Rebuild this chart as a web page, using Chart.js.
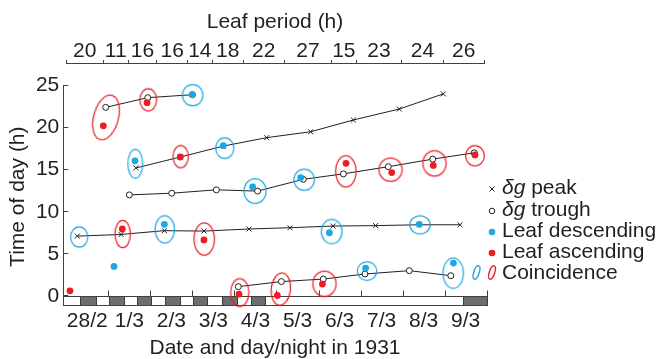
<!DOCTYPE html>
<html>
<head>
<meta charset="utf-8">
<script src="https://cdn.jsdelivr.net/npm/chart.js@4"></script>
<style>
  html, body { margin: 0; padding: 0; background: #fff; }
  #wrap { position: relative; width: 660px; height: 359px; font-family: 'Liberation Sans', Arial, sans-serif; color: #231f20; }
  #myChart { position: absolute; left: 0; top: 0; }
  .row { position: absolute; left: 0; width: 660px; height: 22px; line-height: 22px; font-size: 21px; white-space: nowrap; }
  .row span { position: absolute; left: 502px; top: 0; }
  .row svg { position: absolute; top: 0; overflow: visible; }
</style>
</head>
<body>
<div id="wrap">
  <canvas id="myChart" width="660" height="359"></canvas>
  <div class="row" style="top:176px"><svg style="left:486px" width="12" height="22"><path d="M3.5 10.5 L8.5 15.5 M8.5 10.5 L3.5 15.5" stroke="#231f20" stroke-width="1"/></svg><span><i>δg</i> peak</span></div>
  <div class="row" style="top:197.5px"><svg style="left:486px" width="12" height="22"><circle cx="6" cy="13" r="2.8" fill="#fff" stroke="#231f20" stroke-width="1"/></svg><span><i>δg</i> trough</span></div>
  <div class="row" style="top:219px"><svg style="left:486px" width="12" height="22"><circle cx="6" cy="13" r="3.3" fill="#1ca8e2"/></svg><span>Leaf descending</span></div>
  <div class="row" style="top:240px"><svg style="left:486px" width="12" height="22"><circle cx="6" cy="13" r="3.3" fill="#ec1c24"/></svg><span>Leaf ascending</span></div>
  <div class="row" style="top:261px">
    <svg style="left:470px" width="12" height="22"><ellipse cx="6.5" cy="11.5" rx="2.7" ry="7" transform="rotate(18 6.5 11.5)" fill="none" stroke="#1ca8e2" stroke-width="1.4"/></svg>
    <svg style="left:486px" width="12" height="22"><ellipse cx="6" cy="11.5" rx="2.7" ry="7" transform="rotate(18 6 11.5)" fill="none" stroke="#ec1c24" stroke-width="1.4"/></svg>
    <span>Coincidence</span>
  </div>
</div>
<script>
const BLUE = '#1ca8e2';
const RED = '#ec1c24';
const TEXT = '#231f20';
const AXIS = '#414042';
const NIGHT = '#6d6e71';

// hours counted from 28/2 00:00
const dateLabels = ['28/2', '1/3', '2/3', '3/3', '4/3', '5/3', '6/3', '7/3', '8/3', '9/3'];
const timeTicks = [0, 5, 10, 15, 20, 25];
const periodLabels = ['20', '11', '16', '16', '14', '18', '22', '27', '15', '23', '24', '26'];
const periodEdges = [0, 21.1, 35.4, 51.6, 69.3, 83.2, 101.1, 124.4, 151.5, 165.4, 191.5, 215.2, 238.5];
const nightStart = [7.8, 24.6, 40.2, 56.5, 72.2, 89.1, 105.3, 226.3];
const nightEnd = [16.8, 33.0, 48.2, 64.9, 80.5, 97.3, 113.5, 240];

const peakAHours = [39.8, 65.1, 89.7, 114.4, 139.5, 163.9, 190.1, 215.2];
const peakATimes = [15.2, 16.5, 17.8, 18.8, 19.5, 20.9, 22.2, 24.0];
const peakBHours = [6.3, 31.3, 56.0, 78.6, 104.3, 127.7, 152.3, 176.6, 201.5, 224.8];
const peakBTimes = [7.1, 7.3, 7.75, 7.7, 7.95, 8.1, 8.3, 8.35, 8.45, 8.45];

const troughAHours = [22.5, 46.5, 72.0];
const troughATimes = [22.4, 23.55, 23.9];
const troughBHours = [36.0, 60.2, 85.7, 109.2, 135.3, 158.2, 183.8, 209.2, 232.9];
const troughBTimes = [12.0, 12.2, 12.6, 12.45, 13.85, 14.5, 15.35, 16.25, 17.0];
const troughCHours = [98.2, 122.8, 146.7, 170.5, 195.8, 219.5];
const troughCTimes = [1.1, 1.7, 2.0, 2.6, 3.0, 2.4];

const descHours = [27.25, 39.2, 56.0, 71.95, 89.65, 106.4, 133.8, 150.2, 170.9, 201.5, 221.0];
const descTimes = [3.5, 16.05, 8.5, 23.9, 17.85, 12.95, 14.05, 7.5, 3.3, 8.5, 3.9];

const ascHours = [2.1, 21.15, 32.0, 46.1, 65.1, 78.6, 98.6, 120.5, 146.2, 159.7, 185.8, 209.5, 233.3];
const ascTimes = [0.6, 20.2, 7.95, 22.95, 16.5, 6.65, 0.2, 0.05, 1.4, 15.75, 14.65, 15.5, 16.75];

// coincidence rings (centres)
const blueRingHours = [7.4, 39.4, 56.2, 72.1, 90.45, 107.75, 135.8, 151.5, 171.7, 201.9, 220.9];
const blueRingTimes = [7.0, 15.7, 7.9, 23.85, 17.55, 12.45, 13.8, 7.65, 2.95, 8.45, 2.7];
const redRingHours = [22.7, 32.2, 46.8, 65.3, 78.75, 99.0, 122.5, 147.4, 159.6, 185.1, 210.2, 233.3];
const redRingTimes = [21.2, 7.35, 23.3, 16.55, 6.75, 0.4, 0.8, 1.45, 14.8, 15.0, 15.75, 16.65];

// ring shapes in px: [half width, half height, tilt]
const blueRingShape = [[9.2, 10.8, 0], [8, 15, 0], [10.3, 14.2, 0], [10.8, 11.3, 0], [9.7, 11, 0], [11.7, 13, 0],
  [10.8, 11.3, 0], [11, 12.7, 0], [10.3, 10, 0], [10.7, 9.7, 0], [10.8, 15.8, 0]];
const redRingShape = [[13, 23.5, 15], [8.3, 14.2, 0], [9, 11.7, 0], [8.3, 11.7, 0], [10.8, 16.7, 0], [9.7, 14.5, 0],
  [10.2, 16.7, 6], [12.2, 13.3, 0], [10.8, 16.3, 0], [12.2, 12.2, 0], [12.2, 13.3, 0], [10, 10.8, 0]];

function pts(xs, ys) {
  return xs.map((x, i) => ({x: x, y: ys[i]}));
}

function ringImage(rx, ry, color) {
  const c = document.createElement('canvas');
  c.width = 2 * Math.ceil(rx + 2);
  c.height = 2 * Math.ceil(ry + 2);
  const g = c.getContext('2d');
  g.strokeStyle = color;
  g.lineWidth = 1.2;
  g.beginPath();
  g.ellipse(c.width / 2, c.height / 2, rx - 0.6, ry - 0.6, 0, 0, 2 * Math.PI);
  g.stroke();
  return c;
}

function ringSet(hours, times, shape, color) {
  return {
    data: pts(hours, times),
    showLine: false,
    pointStyle: shape.map(s => ringImage(s[0], s[1], color)),
    pointRotation: shape.map(s => s[2]),
    pointRadius: 5,
    clip: false,
    order: 0
  };
}

function dotSet(hours, times, color) {
  return {
    data: pts(hours, times),
    showLine: false,
    pointStyle: 'circle',
    pointRadius: 3.4,
    pointBackgroundColor: color,
    pointBorderWidth: 0,
    order: 1
  };
}

function peakSet(hours, times) {
  return {
    data: pts(hours, times),
    showLine: true,
    borderColor: TEXT,
    borderWidth: 1,
    pointStyle: 'crossRot',
    pointRadius: 3.5,
    pointBorderColor: TEXT,
    pointBorderWidth: 1,
    order: 2
  };
}

function troughSet(hours, times) {
  return {
    data: pts(hours, times),
    showLine: true,
    borderColor: TEXT,
    borderWidth: 1,
    pointStyle: 'circle',
    pointRadius: 3,
    pointBackgroundColor: '#fff',
    pointBorderColor: TEXT,
    pointBorderWidth: 1,
    order: 2
  };
}

const px = v => Math.round(v) + 0.5;

const frame = {
  id: 'frame',
  beforeDatasetsDraw(chart) {
    const {ctx, chartArea: a, scales: {x, y, x2}} = chart;
    const y0 = px(y.getPixelForValue(0));
    const yb = px(a.bottom) - 1;
    ctx.save();
    ctx.lineWidth = 1;
    ctx.fillStyle = '#fff';
    ctx.fillRect(a.left, y0, a.right - a.left, yb - y0);
    ctx.fillStyle = NIGHT;
    ctx.strokeStyle = '#3a3a3c';
    nightStart.forEach((s, i) => {
      const l = px(x.getPixelForValue(s));
      const r = px(x.getPixelForValue(nightEnd[i]));
      ctx.fillRect(l, y0, r - l, yb - y0);
      ctx.strokeRect(l, y0, r - l, yb - y0);
    });
    ctx.strokeStyle = AXIS;
    ctx.strokeRect(px(a.left), y0, px(a.right) - px(a.left), yb - y0);
    ctx.beginPath();
    dateLabels.forEach((_, i) => {
      const t = px(x.getPixelForValue(24 * (i + 1)));
      ctx.moveTo(t, y0);
      ctx.lineTo(t, y0 - 6);
    });
    ctx.moveTo(px(a.left), px(y.getPixelForValue(25)));
    ctx.lineTo(px(a.left), yb);
    const top = px(a.top) - 1;
    ctx.moveTo(x2.getPixelForValue(periodEdges[0]), top);
    ctx.lineTo(x2.getPixelForValue(periodEdges[periodEdges.length - 1]), top);
    ctx.stroke();
    ctx.restore();
  }
};

const font = {family: "'Liberation Sans', Arial, sans-serif", size: 21, lineHeight: 1};

new Chart(document.getElementById('myChart'), {
  type: 'scatter',
  data: {
    datasets: [
      ringSet(blueRingHours, blueRingTimes, blueRingShape, BLUE),
      ringSet(redRingHours, redRingTimes, redRingShape, RED),
      dotSet(descHours, descTimes, BLUE),
      dotSet(ascHours, ascTimes, RED),
      peakSet(peakAHours, peakATimes),
      peakSet(peakBHours, peakBTimes),
      troughSet(troughAHours, troughATimes),
      troughSet(troughBHours, troughBTimes),
      troughSet(troughCHours, troughCTimes)
    ]
  },
  options: {
    responsive: false,
    devicePixelRatio: 1,
    animation: false,
    events: [],
    layout: {padding: {left: 0, right: 173.3, top: 0, bottom: 0}},
    plugins: {legend: {display: false}, tooltip: {enabled: false}},
    scales: {
      x: {
        type: 'linear',
        position: 'bottom',
        min: -1.7,
        max: 240,
        afterBuildTicks: s => { s.ticks = dateLabels.map((_, i) => ({value: 12 + 24 * i})); },
        ticks: {autoSkip: false, maxRotation: 0, padding: 5.2, color: TEXT, font: font,
          callback: (v, i) => dateLabels[i]},
        grid: {display: false, drawTicks: false},
        border: {display: false},
        title: {display: true, text: 'Date and day/night in 1931', color: TEXT, font: font,
          padding: {top: 0, bottom: 0.5}},
        afterFit: s => { s.height = 53; }
      },
      x2: {
        type: 'linear',
        position: 'top',
        min: -1.7,
        max: 240,
        afterBuildTicks: s => {
          const t = [];
          periodEdges.forEach((e, i) => {
            t.push({value: e});
            if (i < periodLabels.length) t.push({value: (e + periodEdges[i + 1]) / 2});
          });
          s.ticks = t;
        },
        ticks: {autoSkip: false, maxRotation: 0, padding: -2.2, color: TEXT, font: font,
          callback: (v, i) => (i % 2 ? periodLabels[(i - 1) / 2] : '')},
        grid: {drawOnChartArea: false, tickLength: 4, lineWidth: 1,
          color: c => (c.index % 2 ? 'rgba(0,0,0,0)' : AXIS)},
        border: {display: false},
        title: {display: true, text: 'Leaf period (h)', color: TEXT, font: font,
          padding: {top: 11.5, bottom: 0}},
        afterFit: s => { s.height = 64; }
      },
      y: {
        type: 'linear',
        min: -1.2,
        max: 27.55,
        afterBuildTicks: s => { s.ticks = timeTicks.map(v => ({value: v})); },
        ticks: {padding: 9, color: TEXT, font: font},
        grid: {drawOnChartArea: false, tickLength: -5, lineWidth: 1, color: AXIS},
        border: {display: false},
        title: {display: true, text: 'Time of day (h)    ', color: TEXT, font: font,
          padding: {top: 7.5, bottom: 0}},
        afterFit: s => { s.height = s.height; s.width = 63.3; }
      }
    }
  },
  plugins: [frame]
});
</script>
</body>
</html>
